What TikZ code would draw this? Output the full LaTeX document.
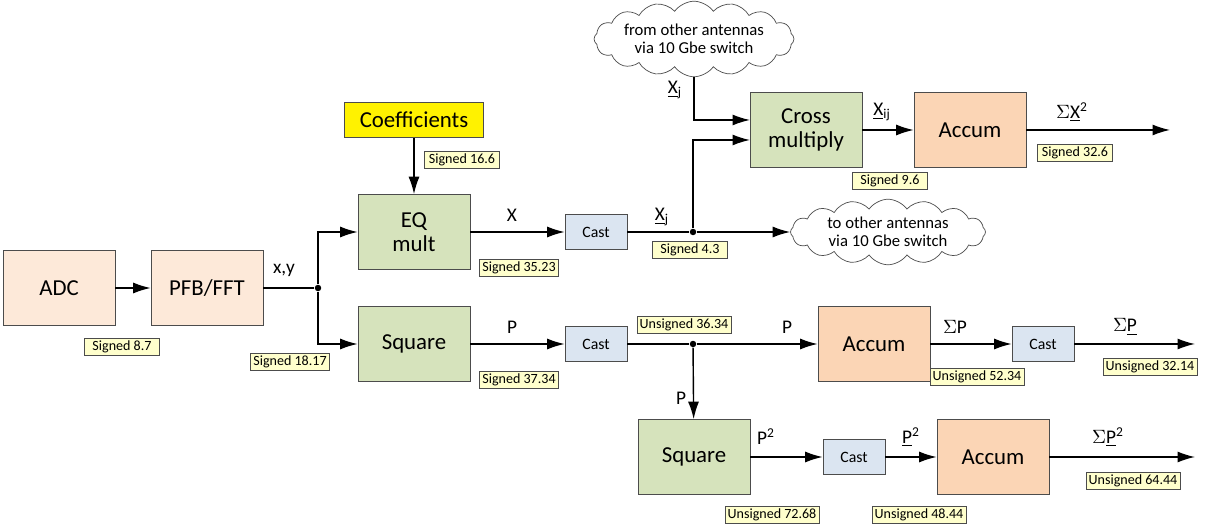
\documentclass[tikz,border=0pt]{standalone}
\usepackage{fontspec}
\setmainfont{Carlito}
\usetikzlibrary{shapes.symbols,arrows.meta}
\definecolor{boxgreen}{RGB}{214,227,188}
\definecolor{boxorange}{RGB}{251,213,181}
\definecolor{boxpink}{RGB}{253,233,217}
\definecolor{boxblue}{RGB}{219,229,241}
\definecolor{tagyellow}{RGB}{255,255,204}
\tikzset{
  blk/.style={draw=black!70,minimum width=2.24cm,minimum height=1.5cm,align=center,font=\fontsize{13}{14}\selectfont},
  op/.style={blk,fill=boxgreen},
  acc/.style={blk,fill=boxorange},
  cast/.style={draw=black!70,fill=boxblue,minimum width=1.24cm,minimum height=0.7cm,font=\fontsize{9}{10}\selectfont},
  tag/.style={draw=black!70,fill=tagyellow,inner sep=1.5pt,minimum width=1.5cm,font=\fontsize{8}{9}\selectfont},
  lbl/.style={font=\fontsize{11}{12}\selectfont},
  net/.style={cloud,cloud puffs=16,cloud puff arc=110,draw=black!70,fill=white,inner sep=0pt,minimum width=3.9cm,minimum height=1.1cm,align=center,font=\fontsize{9.5}{10.5}\selectfont,aspect=3.5},
  arr/.style={-{Latex[length=3.5mm,width=2.2mm]},thick},
  dot/.style={circle,fill,inner sep=1.3pt}
}
\begin{document}
\begin{tikzpicture}[x=0.02cm,y=-0.02cm]
        \useasboundingbox (0,0) rectangle (1210,526);
        % blocks
        \node[blk,fill=boxpink] (adc) at (59,288){ADC};
        \node[blk,fill=boxpink] (pfb) at (207,288){PFB/FFT};
        \node[draw=black!70,fill=yellow,minimum width=2.78cm,minimum height=0.7cm,font=\fontsize{13}{14}\selectfont] (coef) at (414,120){Coefficients};
        \node[op] (eq) at (414,232){EQ\\mult};
        \node[op] (sq) at (414,344){Square};
        \node[cast] (castx) at (596,232){Cast};
        \node[cast] (castp) at (596,344){Cast};
        \node[op] (cross) at (806,130){Cross\\multiply};
        \node[acc] (accx) at (970,130){Accum};
        \node[acc] (accp) at (874,344){Accum};
        \node[cast] (castsp) at (1043,344){Cast};
        \node[op] (sqq) at (694,457){Square};
        \node[cast] (castpp) at (854,457){Cast};
        \node[acc] (accpp) at (993,457){Accum};
        \node[net] (from) at (694,39){from other antennas\\via 10 Gbe switch};
        \node[net] (to) at (888,232){to other antennas\\via 10 Gbe switch};

        % junctions and ends
        \node[dot] (jxy) at (318,288){};
        \node[dot] (jx) at (693,232){};
        \node[dot] (jp) at (693,344){};
        \coordinate (cin1) at (750,120);
        \coordinate (cin2) at (750,140);
        \coordinate (endx) at (1170,130);
        \coordinate (endp) at (1195,344);
        \coordinate (endpp) at (1195,457);

        % connectors
        \draw[arr] (adc) -- (pfb);
        \draw[thick] (pfb) -- (jxy);
        \draw[arr] (jxy) |- (eq.west);
        \draw[arr] (jxy) |- (sq.west);
        \draw[arr] (coef) -- (eq);
        \draw[arr] (eq) -- (castx);
        \draw[thick] (castx) -- (jx);
        \draw[arr] (jx) -- (to);
        \draw[arr] (jx) |- (cin2);
        \draw[arr] (from.south) |- (cin1);
        \draw[arr] (cross) -- (accx);
        \draw[arr] (accx) -- (endx);
        \draw[arr] (sq) -- (castp);
        \draw[thick] (castp) -- (jp);
        \draw[arr] (jp) -- (accp);
        \draw[arr] (accp) -- (castsp);
        \draw[arr] (castsp) -- (endp);
        \draw[arr] (jp) -- (sqq);
        \draw[arr] (sqq) -- (castpp);
        \draw[arr] (castpp) -- (accpp);
        \draw[arr] (accpp) -- (endpp);

        % signal names
        \node[lbl] (nxy) at (284,270){x,y};
        \node[lbl] (nx) at (512,215){X};
        \node[lbl] (nxj) at (662,217){\underline{X}\textsubscript{j}};
        \node[lbl] (nxi) at (675,90){\underline{X}\textsubscript{j}};
        \node[lbl] (nxij) at (882,112){\underline{X}\textsubscript{ij}};
        \node[lbl] (nsx) at (1072,112){$\Sigma$\underline{X}\textsuperscript{2}};
        \node[lbl] (np1) at (512,327){P};
        \node[lbl] (np2) at (787,327){P};
        \node[lbl] (np3) at (681,398){P};
        \node[lbl] (nsp) at (955,327){$\Sigma$P};
        \node[lbl] (nspc) at (1125,327){$\Sigma$\underline{P}};
        \node[lbl] (np4) at (766,437){P\textsuperscript{2}};
        \node[lbl] (np5) at (911,437){\underline{P}\textsuperscript{2}};
        \node[lbl] (nspp) at (1108,437){$\Sigma$\underline{P}\textsuperscript{2}};

        % number formats
        \node[tag] (t1) at (122,347){Signed 8.7};
        \node[tag] (t2) at (290,362){Signed 18.17};
        \node[tag] (t3) at (462,160){Signed 16.6};
        \node[tag] (t4) at (519,268){Signed 35.23};
        \node[tag] (t5) at (519,380){Signed 37.34};
        \node[tag] (t6) at (690,250){Signed 4.3};
        \node[tag] (t7) at (890,181){Signed 9.6};
        \node[tag] (t8) at (1075,153){Signed 32.6};
        \node[tag] (t9) at (684,325){Unsigned 36.34};
        \node[tag] (t10) at (977,377){Unsigned 52.34};
        \node[tag] (t11) at (1150,367){Unsigned 32.14};
        \node[tag] (t12) at (772,515){Unsigned 72.68};
        \node[tag] (t13) at (919,515){Unsigned 48.44};
        \node[tag] (t14) at (1133,481){Unsigned 64.44};
\end{tikzpicture}
\end{document}
